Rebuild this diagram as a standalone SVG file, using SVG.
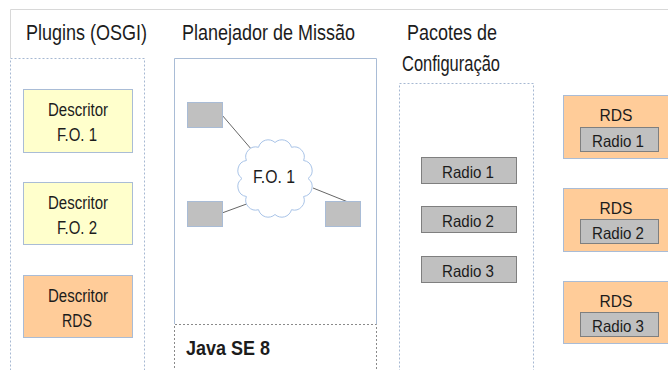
<svg xmlns="http://www.w3.org/2000/svg" width="668" height="370" viewBox="0 0 668 370">
<style>
  text { font-family: "Liberation Sans", Arial, sans-serif; fill: #1c1c1c; }
  .title { font-size: 22px; }
  .lbl { font-size: 17.5px; text-anchor: middle; }
  .rlbl { font-size: 16.5px; text-anchor: middle; }
  .frame { stroke: #d8d8d8; stroke-width: 1; fill: none; }
  .dotbox { fill: none; stroke: #a6b8d2; stroke-width: 1; stroke-dasharray: 2 2; }
  .yellow { fill: #ffffcc; stroke: #a9bcd6; stroke-width: 1; }
  .peach { fill: #ffcc99; stroke: #a9bcd6; stroke-width: 1; }
  .gray { fill: #c0c0c0; stroke: #a9bcd6; stroke-width: 1; }
  .radio { fill: #c0c0c0; stroke: #7f7f7f; stroke-width: 1; }
  .conn { stroke: #666666; stroke-width: 1; fill: none; }
</style>
<rect width="668" height="370" fill="#ffffff"/>

<!-- outer frame -->
<path class="frame" d="M10.5 9.5 H668 M10.5 9.5 V58"/>

<!-- column titles -->
<text class="title" x="26" y="40" textLength="121" lengthAdjust="spacingAndGlyphs">Plugins (OSGI)</text>
<text class="title" x="182" y="40" textLength="173" lengthAdjust="spacingAndGlyphs">Planejador de Missão</text>
<text class="title" x="407" y="40" textLength="90" lengthAdjust="spacingAndGlyphs">Pacotes de</text>
<text class="title" x="402" y="71" textLength="98" lengthAdjust="spacingAndGlyphs">Configuração</text>

<!-- Plugins container -->
<g id="plugins">
  <rect class="dotbox" x="10.5" y="58.5" width="134" height="320"/>
</g>
<g id="descritor-fo1">
  <rect class="yellow" x="23.5" y="89.5" width="109" height="63"/>
  <text class="lbl" x="78" y="116" textLength="60" lengthAdjust="spacingAndGlyphs">Descritor</text>
  <text class="lbl" x="77" y="141" textLength="40" lengthAdjust="spacingAndGlyphs">F.O. 1</text>
</g>
<g id="descritor-fo2">
  <rect class="yellow" x="23.5" y="182.5" width="109" height="62"/>
  <text class="lbl" x="78" y="209" textLength="60" lengthAdjust="spacingAndGlyphs">Descritor</text>
  <text class="lbl" x="77" y="234" textLength="40" lengthAdjust="spacingAndGlyphs">F.O. 2</text>
</g>
<g id="descritor-rds">
  <rect class="peach" x="23.5" y="275.5" width="109" height="62"/>
  <text class="lbl" x="78" y="302" textLength="60" lengthAdjust="spacingAndGlyphs">Descritor</text>
  <text class="lbl" x="77" y="327" textLength="30" lengthAdjust="spacingAndGlyphs">RDS</text>
</g>

<!-- Planejador container -->
<g id="planejador">
  <path d="M174.5 324 V58.5 H376.5 V324" fill="none" stroke="#a9bcd6" stroke-width="1"/>
</g>
<g id="java-se8">
  <path d="M174.5 372 V324.5 H376.5 V372" fill="none" stroke="#8a8a8a" stroke-width="1" stroke-dasharray="2 2"/>
  <text x="186" y="355" font-size="21" font-weight="bold" textLength="84" lengthAdjust="spacingAndGlyphs">Java SE 8</text>
</g>

<!-- connectors -->
<g id="connectors">
  <line class="conn" x1="222" y1="115" x2="252" y2="150"/>
  <line class="conn" x1="222" y1="213" x2="252" y2="202"/>
  <line class="conn" x1="313" y1="188" x2="348" y2="202"/>
</g>

<g id="node-a">
  <rect class="gray" x="187.5" y="102.5" width="35" height="25"/>
</g>
<g id="node-b">
  <rect class="gray" x="187.5" y="201.5" width="35" height="25"/>
</g>
<g id="node-c">
  <rect class="gray" x="325.5" y="201.5" width="35" height="25"/>
</g>
<g id="cloud-fo1">
  <path d="M308 178.5 A10 10 0 0 1 303.6 196.5 A10 10 0 0 1 291.5 209.7 A10 10 0 0 1 275 214.5 A10 10 0 0 1 258.5 209.7 A10 10 0 0 1 246.4 196.5 A10 10 0 0 1 242 178.5 A10 10 0 0 1 246.4 160.5 A10 10 0 0 1 258.5 147.3 A10 10 0 0 1 275 142.5 A10 10 0 0 1 291.5 147.3 A10 10 0 0 1 303.6 160.5 A10 10 0 0 1 308 178.5 Z" fill="#ffffff" stroke="#a9c4e8" stroke-width="1"/>
  <text class="lbl" x="274" y="183" font-size="18" textLength="42" lengthAdjust="spacingAndGlyphs">F.O. 1</text>
</g>

<!-- Pacotes container -->
<g id="pacotes">
  <rect class="dotbox" x="399.5" y="83.5" width="134" height="300"/>
</g>
<g id="pkg-radio1">
  <rect class="radio" x="421.5" y="157.5" width="95" height="26"/>
  <text class="rlbl" x="468" y="178" textLength="52" lengthAdjust="spacingAndGlyphs">Radio 1</text>
</g>
<g id="pkg-radio2">
  <rect class="radio" x="421.5" y="206.5" width="95" height="26"/>
  <text class="rlbl" x="468" y="227" textLength="52" lengthAdjust="spacingAndGlyphs">Radio 2</text>
</g>
<g id="pkg-radio3">
  <rect class="radio" x="421.5" y="256.5" width="95" height="26"/>
  <text class="rlbl" x="468" y="277" textLength="52" lengthAdjust="spacingAndGlyphs">Radio 3</text>
</g>

<!-- RDS instances -->
<g id="rds1">
  <rect class="peach" x="563.5" y="95.5" width="110" height="63"/>
  <text class="rlbl" x="616" y="121" textLength="33" lengthAdjust="spacingAndGlyphs">RDS</text>
  <rect class="radio" x="580.5" y="127.5" width="78" height="24"/>
  <text class="rlbl" x="618" y="147" textLength="52" lengthAdjust="spacingAndGlyphs">Radio 1</text>
</g>
<g id="rds2">
  <rect class="peach" x="563.5" y="188.5" width="110" height="63"/>
  <text class="rlbl" x="616" y="214" textLength="33" lengthAdjust="spacingAndGlyphs">RDS</text>
  <rect class="radio" x="580.5" y="219.5" width="78" height="24"/>
  <text class="rlbl" x="618" y="239" textLength="52" lengthAdjust="spacingAndGlyphs">Radio 2</text>
</g>
<g id="rds3">
  <rect class="peach" x="563.5" y="281.5" width="110" height="62"/>
  <text class="rlbl" x="616" y="307" textLength="33" lengthAdjust="spacingAndGlyphs">RDS</text>
  <rect class="radio" x="580.5" y="312.5" width="78" height="24"/>
  <text class="rlbl" x="618" y="332" textLength="52" lengthAdjust="spacingAndGlyphs">Radio 3</text>
</g>
</svg>
